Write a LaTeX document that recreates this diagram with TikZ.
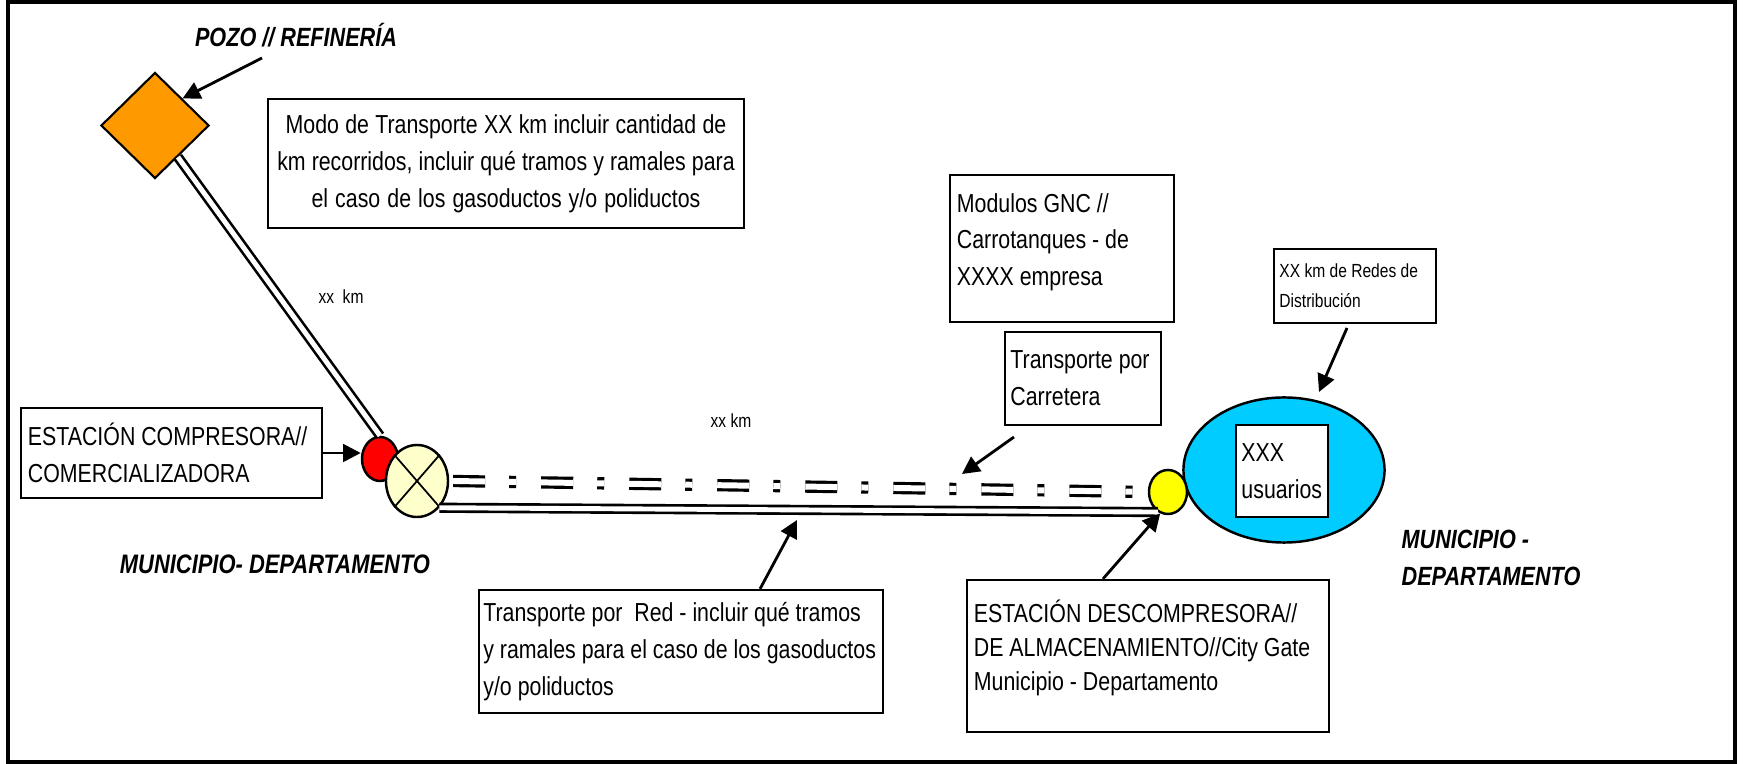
\documentclass[tikz,border=0pt]{standalone}
\usepackage{fontspec}
\setmainfont[FakeStretch=0.82]{Liberation Sans}
\usetikzlibrary{shapes.geometric,arrows.meta}
\definecolor{pozoorange}{HTML}{FF9900}
\definecolor{estred}{HTML}{FF0000}
\definecolor{cruzpale}{HTML}{FFFFCC}
\definecolor{descyellow}{HTML}{FFFF00}
\definecolor{usublue}{HTML}{00CCFF}
\newcommand\tightsp{\spaceskip=0.228em plus 0.06em minus 0.03em\relax\xspaceskip=0pt\relax\hyphenpenalty=10000\relax}
\begin{document}
\begin{tikzpicture}[x=0.01cm,y=-0.01cm,
  box/.style={draw,line width=0.6pt,inner xsep=2pt,inner ysep=0pt,align=left,font=\fontsize{7.4}{10.5}\selectfont,execute at begin node=\tightsp},
  tag/.style={font=\bfseries\itshape\fontsize{7.6}{10.5}\selectfont},
  small/.style={font=\fontsize{5.4}{8.5}\selectfont},
  pipe/.style={line width=0.75pt,double,double distance=1.4pt},
  road/.style={line width=0.9pt,double,double distance=1.7pt,dash pattern=on 0.32cm off 0.24cm on 0.07cm off 0.25cm},
  arr/.style={-{Triangle[length=5pt,width=5pt]},line width=0.8pt},
  dot/.style={ellipse,draw,line width=0.7pt,inner sep=0pt}]
\useasboundingbox (0,0) rectangle (1744,764);
\draw[line width=1pt] (8,2) rectangle (1735,762);

\node[diamond,draw,line width=0.6pt,fill=pozoorange,inner sep=0pt,minimum width=1.08cm,minimum height=1.06cm] (pozo) at (155,125.5) {};
\node[tag,font=\bfseries\itshape\fontsize{7.5}{9}\selectfont] (pozolbl) at (296,35) {POZO // REFINERÍA};
\node[box,align=center,inner xsep=1.5pt,text width=4.65cm,minimum height=1.29cm] (modo) at (506,163.5) {Modo de Transporte XX km incluir cantidad de\\km recorridos, incluir qué tramos y ramales para\\el caso de los gasoductos y/o poliductos};
\node[small] (kmA) at (341,297) {xx~~km};

\node[box,text width=2.87cm,minimum height=0.90cm] (compresora) at (171.5,453) {ESTACIÓN COMPRESORA//\\COMERCIALIZADORA};
\node[dot,fill=estred,minimum width=0.36cm,minimum height=0.44cm] (red) at (380,459) {};
\node[dot,fill=cruzpale,minimum width=0.62cm,minimum height=0.72cm] (pale) at (417,481) {};
\draw[line width=0.5pt] (pale.north west) -- (pale.south east) (pale.north east) -- (pale.south west);
\node[tag] (munA) at (275,564) {MUNICIPIO- DEPARTAMENTO};
\node[small] (kmB) at (731,421) {xx km};

\node[box,text width=2.10cm,minimum height=1.47cm] (modulos) at (1062,248.5) {Modulos GNC //\\Carrotanques - de\\XXXX empresa\\[-5.4pt]\mbox{}};
\node[box,inner xsep=1.5pt,text width=1.45cm,minimum height=0.93cm] (carretera) at (1083,378.5) {Transporte por\\Carretera};
\node[box,small,inner xsep=1.5pt,text width=1.51cm,minimum height=0.74cm] (redes) at (1355,286) {XX km de Redes de\\Distribución};

\node[dot,fill=usublue,minimum width=2.01cm,minimum height=1.45cm] (blue) at (1284,470) {};
\node[box,fill=white,inner xsep=1.5pt,text width=0.81cm,minimum height=0.92cm] (usuarios) at (1282,471) {XXX\\usuarios};
\node[dot,fill=descyellow,minimum width=0.38cm,minimum height=0.44cm] (yel) at (1168,492) {};
\node[tag,font=\bfseries\itshape\fontsize{7.5}{10.5}\selectfont,align=left] (munB) at (1491,558) {MUNICIPIO -\\DEPARTAMENTO};

\node[box,text width=3.95cm,inner xsep=1.28pt,minimum height=1.23cm] (redbox) at (681,651.5) {Transporte por~ Red - incluir qué tramos\\y ramales para el caso de los gasoductos\\y/o poliductos};
\node[box,text width=3.48cm,minimum height=1.52cm,font=\fontsize{7.4}{9.7}\selectfont] (descomp) at (1148,656) {ESTACIÓN DESCOMPRESORA//\\DE ALMACENAMIENTO//City Gate\\Municipio - Departamento\\[-3.4pt]\mbox{}};

\draw[pipe] (pozo) -- (red.north);
\draw[pipe] (pale.-50) -- (yel.243);
\draw[road] ([xshift=1.1pt]pale.east) -- (yel.west);

\coordinate (pozoT) at (262,58);
\coordinate (carrT) at (1014,437);
\coordinate (carrH) at (962,474);
\coordinate (redesT) at (1347,328);
\coordinate (redesH) at (1319,392);
\coordinate (redH) at (797,520);
\draw[arr] (pozoT) -- (pozo.north east);
\draw[arr] (compresora.east) -- (red.west |- compresora.east);
\draw[arr] (carrT) -- (carrH);
\draw[arr] (redesT) -- (redesH);
\draw[arr] ([xshift=0.79cm]redbox.north) -- (redH);
\draw[arr] ([xshift=-0.45cm]descomp.north) -- (yel.250);
\end{tikzpicture}
\end{document}
